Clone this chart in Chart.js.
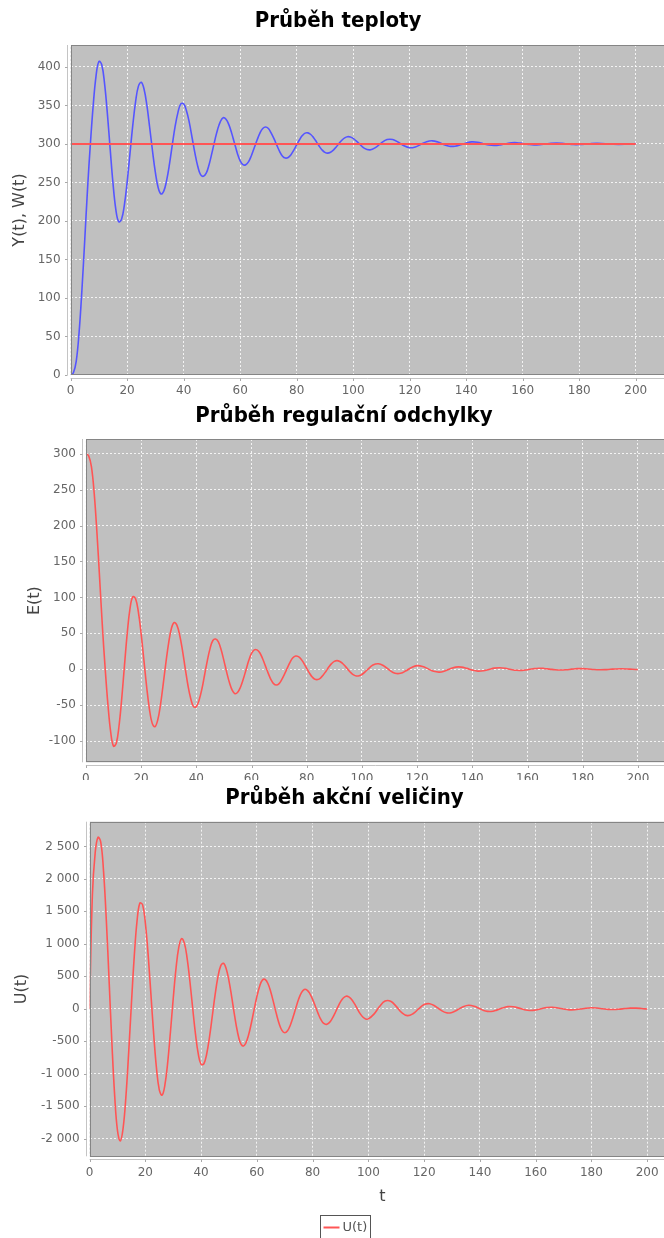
<!DOCTYPE html>
<html><head><meta charset="utf-8">
<script src="https://cdn.jsdelivr.net/npm/chart.js@4/dist/chart.umd.min.js"></script>
<style>
html,body{margin:0;padding:0;background:#fff;overflow:hidden;width:664px;height:1238px;position:relative}
.box{position:absolute;left:0;width:700px;overflow:hidden}
canvas{display:block}
</style></head><body>
<div class="box" style="top:0;height:400px"><canvas id="c1" width="700" height="400"></canvas></div>
<div class="box" style="top:400px;height:380px"><canvas id="c2" width="700" height="380"></canvas></div>
<div class="box" style="top:780px;height:458px"><canvas id="c3" width="700" height="458"></canvas></div>
<script>
// ---- data ----
const tVals = [0,1,2,3,4,5,6,7,8,9,10,11,12,13,14,15,16,17,18,19,20,21,22,23,24,25,26,27,28,29,30,31,32,33,34,35,36,37,38,39,40,41,42,43,44,45,46,47,48,49,50,51,52,53,54,55,56,57,58,59,60,61,62,63,64,65,66,67,68,69,70,71,72,73,74,75,76,77,78,79,80,81,82,83,84,85,86,87,88,89,90,91,92,93,94,95,96,97,98,99,100,102,104,106,108,110,112,114,116,118,120,122,124,126,128,130,132,134,136,138,140,142,144,146,148,150,152,154,156,158,160,162,164,166,168,170,172,174,176,178,180,182,184,186,188,190,192,194,196,198,200];
const yVals = [0,3,18,55,110,175,242,300,350,388,407,403,379,340,293.5,249,215,199,202,220,250,287,324,355,375,380,371,350,321,290.5,263,243,235,239,253,274,299,323,341,352,352,343,328,308,288,271,260,258,262,273,288,304,318.5,329,334,332,325,314,301,288,278,273,273,277,285,295,305,314,320,322,320,314,306.5,298,290,284,281.6,282.4,286,292,298.7,305.4,310.8,314,314.3,312.2,308,302.7,297,292.2,289,288,289.2,292,296,300.6,304.8,307.9,309.4,309.1,307.3,300.7,294.2,292.3,295.5,301.3,305.6,305.7,302.1,297.5,295,296.1,299.5,302.9,304,302.4,299.3,297,297,298.8,301.2,302.6,302.1,300.3,298.5,297.9,298.7,300.3,301.5,301.6,300.6,299.4,298.6,298.9,299.8,300.8,301.1,300.7,299.9,299.2,299.2,299.6,300.3,300.7,300.6,300.1,299.6,299.4,299.6,300.1,300.4];
const wT = [0,200];
const wVals = [300,300];
const eVals = [300,297,282,245,190,125,58,0,-50,-88,-107,-103,-79,-40,6.5,51,85,101,98,80,50,13,-24,-55,-75,-80,-71,-50,-21,9.5,37,57,65,61,47,26,1,-23,-41,-52,-52,-43,-28,-8,12,29,40,42,38,27,12,-4,-18.5,-29,-34,-32,-25,-14,-1,12,22,27,27,23,15,5,-5,-14,-20,-22,-20,-14,-6.5,2,10,16,18.4,17.6,14,8,1.3,-5.4,-10.8,-14,-14.3,-12.2,-8,-2.7,3,7.8,11,12,10.8,8,4,-0.6,-4.8,-7.9,-9.4,-9.1,-7.3,-0.7,5.8,7.7,4.5,-1.3,-5.6,-5.7,-2.1,2.5,5,3.9,0.5,-2.9,-4,-2.4,0.7,3,3,1.2,-1.2,-2.6,-2.1,-0.3,1.5,2.1,1.3,-0.3,-1.5,-1.6,-0.6,0.6,1.4,1.1,0.2,-0.8,-1.1,-0.7,0.1,0.8,0.8,0.4,-0.3,-0.7,-0.6,-0.1,0.4,0.6,0.4,-0.1,-0.4];
const uVals = [0,1750,2400,2640,2566,2119,1364,429,-527,-1341,-1875,-2035,-1845,-1368,-687,76,795,1343,1625,1603,1320,830,221,-398,-919,-1248,-1329,-1177,-833,-358,157,621,948,1081,1010,773,416,0,-396,-700,-857,-847,-697,-439,-118,209,483,656,700,616,430,175,-102,-347,-515,-575,-532,-408,-227,-17,186,347,441,450,385,259,95,-78,-230,-334,-370,-340,-253,-127,15,149,249,297,288,234,144,35,-76,-169,-227,-241,-214,-153,-70,22,106,166,193,183,142,78,2,-72,-128,-157,-156,-83,34,118,115,36,-60,-106,-77,-3,64,78,39,-22,-63,-57,-15.5,32,53,37,-1,-35,-42,-21.5,10.5,33,31,9.5,-16,-28,-20,-0.3,18,22.5,12,-5,-17,-16,-5,8.3,15,11,0.6,-9.3,-11.8,-6.4,2.7,9.2,9,3.1,-4.3];
const xTicks = [0,20,40,60,80,100,120,140,160,180,200];
const yTicks1 = [0,50,100,150,200,250,300,350,400];
const yTicks2 = [-100,-50,0,50,100,150,200,250,300];
const yTicks3 = [-2000,-1500,-1000,-500,0,500,1000,1500,2000,2500];

// ---- helpers ----
const pts = (xs, ys) => xs.map((x, i) => ({x, y: ys[i]}));
const fmt = v => { const s = Math.abs(v).toString().replace(/\B(?=(\d{3})+(?!\d))/g, '\u00a0'); return (v < 0 ? '-' : '') + s; };
const TICK_FONT = {family: "'DejaVu Sans', sans-serif", size: 12};
const TITLE_FONT = {family: "'DejaVu Sans Condensed', 'DejaVu Sans', sans-serif", size: 22, weight: 'bold'};
const AXIS_FONT = {family: "'DejaVu Sans', sans-serif", size: 16, lineHeight: 1};

const jfree = {
  id: 'jfree',
  beforeDraw(chart) {
    const {ctx, chartArea: a} = chart;
    ctx.save();
    ctx.fillStyle = '#c0c0c0';
    ctx.fillRect(a.left, a.top, a.right - a.left, a.bottom - a.top);
    ctx.restore();
  },
  afterDraw(chart, args, o) {
    const {ctx, chartArea: a, scales} = chart;
    const line = (x1, y1, x2, y2) => { ctx.beginPath(); ctx.moveTo(x1, y1); ctx.lineTo(x2, y2); ctx.stroke(); };
    ctx.save();
    ctx.lineWidth = 1;
    ctx.strokeStyle = '#858585';
    ctx.strokeRect(Math.round(a.left) + 0.5, Math.round(a.top) + 0.5, Math.round(a.right - a.left), Math.round(a.bottom - a.top) - 1);
    ctx.strokeStyle = '#c4c4c4';
    const ay = Math.round(a.bottom) + 3.5, ax = Math.round(a.left) - 3.5;
    line(a.left, ay, a.right, ay);
    line(ax, a.top, ax, a.bottom);
    ctx.strokeStyle = '#a8a8a8';
    scales.x.ticks.forEach(t => { const p = Math.round(scales.x.getPixelForValue(t.value)) + 0.5; line(p, ay, p, ay + 2.5); });
    scales.y.ticks.forEach(t => { const p = Math.round(scales.y.getPixelForValue(t.value)) + 0.5; line(ax - 2.5, p, ax, p); });
    if (o && o.legend) {
      const ds = chart.data.datasets[0];
      ctx.font = "13px 'DejaVu Sans', sans-serif";
      const tw = ctx.measureText(ds.label).width;
      const lw = 16, gap = 3, pad = 3;
      const w = pad + lw + gap + tw + pad;
      const cx = o.legend.cx, top = o.legend.top;
      const x0 = Math.round(cx - w / 2) + 0.5;
      ctx.strokeStyle = '#555';
      ctx.strokeRect(x0, top + 0.5, Math.round(w), 26);
      ctx.strokeStyle = ds.borderColor; ctx.lineWidth = 2;
      line(x0 + pad, top + 12.5, x0 + pad + lw, top + 12.5);
      ctx.fillStyle = '#555'; ctx.textBaseline = 'middle'; ctx.textAlign = 'left';
      ctx.fillText(ds.label, x0 + pad + lw + gap, top + 12.5);
    }
    ctx.restore();
  }
};

function build(id, cfg) {
  return new Chart(document.getElementById(id), {
    type: 'line',
    data: {datasets: cfg.datasets},
    plugins: [jfree],
    options: {
      responsive: false, animation: false, events: [],
      layout: {padding: {left: cfg.padL, right: 700 - cfg.R, top: 0, bottom: cfg.padB || 0}},
      elements: {point: {radius: 0}, line: {tension: 0.4, borderJoinStyle: 'round'}},
      plugins: {
        legend: {display: false}, tooltip: {enabled: false},
        title: {display: true, text: cfg.title, color: '#000', font: TITLE_FONT, padding: cfg.titlePad},
        jfree: cfg.jf || {}
      },
      scales: {
        x: {
          type: 'linear', min: 0, max: 210,
          afterBuildTicks: s => { s.ticks = xTicks.map(v => ({value: v})); },
          afterFit: s => { s.height = cfg.xH; },
          grid: {color: 'rgba(255,255,255,0.8)', lineWidth: 1, drawTicks: false},
          border: {display: false, dash: [2, 2]},
          ticks: {color: '#666', font: TICK_FONT, padding: 9, maxRotation: 0, autoSkip: false, callback: v => fmt(v)},
          title: cfg.xTitle ? {display: true, text: cfg.xTitle, color: '#444', font: AXIS_FONT, padding: {top: 0, bottom: cfg.xTitlePadB}} : {display: false}
        },
        y: {
          type: 'linear', min: cfg.yMin, max: cfg.yMax,
          afterBuildTicks: s => { s.ticks = cfg.yTicks.map(v => ({value: v})); },
          afterFit: s => { s.width = cfg.yW; },
          grid: {color: 'rgba(255,255,255,0.8)', lineWidth: 1, drawTicks: false},
          border: {display: false, dash: [2, 2]},
          ticks: {color: '#666', font: TICK_FONT, padding: 10, callback: v => fmt(v)},
          title: {display: true, text: cfg.yTitle, color: '#444', font: AXIS_FONT, padding: {top: cfg.yTitlePad, bottom: 0}}
        }
      }
    }
  });
}

build('c1', {
  title: 'Průběh teploty', titlePad: {top: 8.3, bottom: 10.3},
  padL: 12, R: 664, yW: 58.6, xH: 25,
  yMin: 0, yMax: 428.4, yTicks: yTicks1, yTitle: 'Y(t), W(t)', yTitlePad: 0,
  datasets: [
    {label: 'W(t)', data: pts(wT, wVals), borderColor: '#ff5555', borderWidth: 2, tension: 0},
    {label: 'Y(t)', data: pts(tVals, yVals), borderColor: '#5555ff', borderWidth: 1.6}
  ]
});
build('c2', {
  title: 'Průběh regulační odchylky', titlePad: {top: 3.3, bottom: 9.3},
  padL: 22.5, R: 665.5, yW: 63.4, xH: 17.7,
  yMin: -129.5, yMax: 320.4, yTicks: yTicks2, yTitle: 'E(t)', yTitlePad: 4.5,
  datasets: [
    {label: 'E(t)', data: pts(tVals, eVals), borderColor: '#ff5555', borderWidth: 1.6}
  ]
});
build('c3', {
  title: 'Průběh akční veličiny', titlePad: {top: 5.3, bottom: 10},
  padL: 14, R: 675, yW: 75.6, xH: 53.7, padB: 28,
  yMin: -2272, yMax: 2880, yTicks: yTicks3, yTitle: 'U(t)', yTitlePad: 0,
  xTitle: 't', xTitlePadB: 5.4,
  jf: {legend: {cx: 344.5, top: 435}},
  datasets: [
    {label: 'U(t)', data: pts(tVals, uVals), borderColor: '#ff5555', borderWidth: 1.6}
  ]
});
</script>
</body></html>
